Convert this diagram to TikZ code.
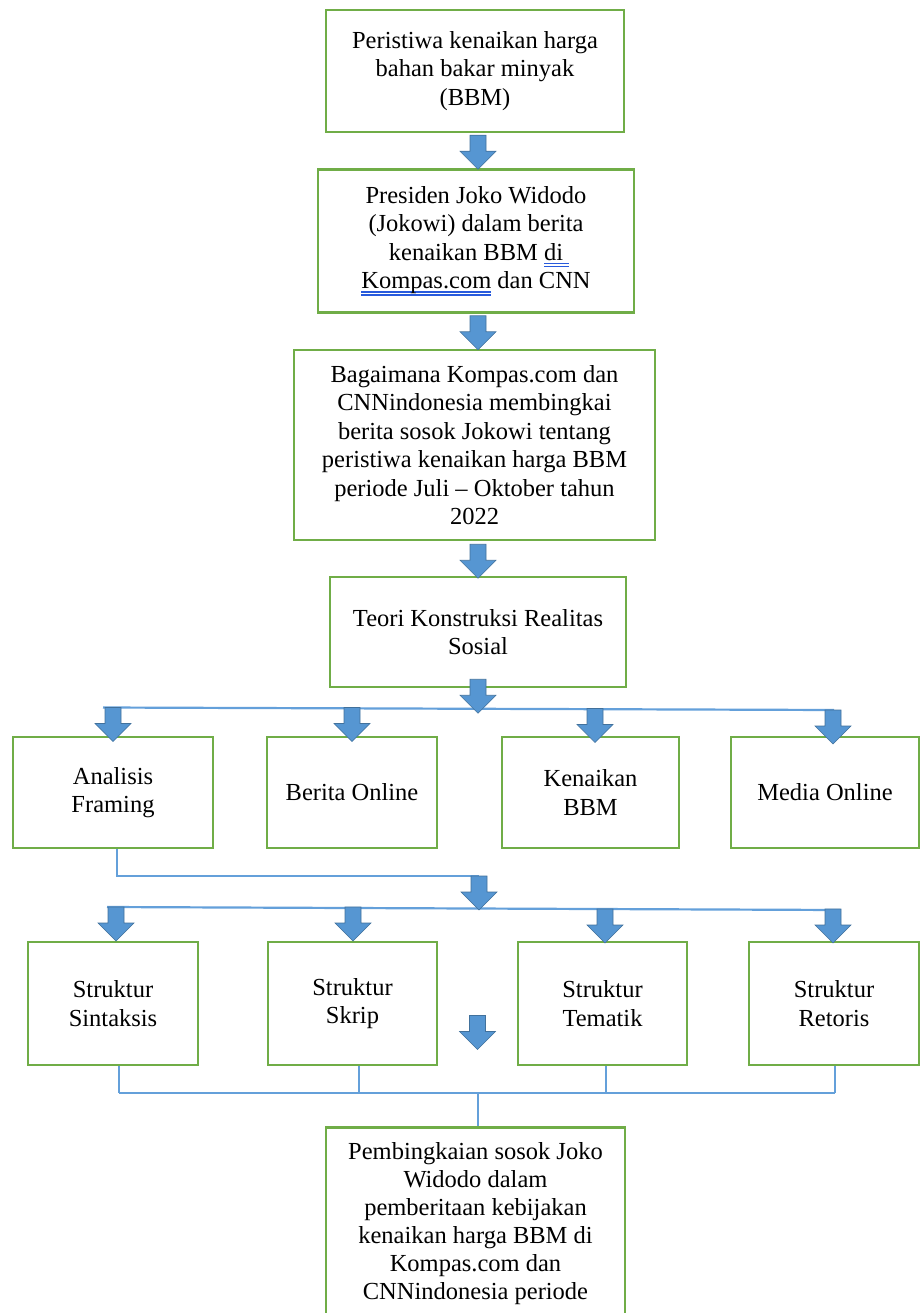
\documentclass[tikz,border=0pt]{standalone}
\usepackage{fontspec}
\setmainfont{Liberation Serif}
\usetikzlibrary{calc}
\definecolor{boxgreen}{RGB}{112,173,71}
\definecolor{lineblue}{RGB}{100,160,218}
\definecolor{arrowblue}{RGB}{86,150,210}
\definecolor{arrowedge}{RGB}{65,113,156}
\definecolor{ulblue}{RGB}{40,90,220}
\newcommand\bluu[1]{\leavevmode\setbox0\hbox{#1}%
  \rlap{\textcolor{ulblue}{\rule[-3.6pt]{\wd0}{1.1pt}}}%
  \rlap{\textcolor{ulblue}{\rule[-6.6pt]{\wd0}{1.1pt}}}\box0\relax}
\begin{document}
\begin{tikzpicture}[x=1pt,y=-1pt,
  box/.style={draw=boxgreen, line width=2.5pt, fill=white, align=center, inner sep=0pt,
    font=\fontsize{24.5}{28.5}\selectfont},
  txt/.style={align=center, inner sep=0pt, font=\fontsize{24.5}{28}\selectfont},
  conn/.style={draw=lineblue, line width=2.2pt},
  arrowsty/.style={fill=arrowblue, draw=arrowedge, line width=0.6pt, line join=miter},
  barrow/.pic={\path[arrowsty] (-8,0) -- (8,0) -- (8,16) -- (18,16) -- (0,34) -- (-18,16) -- (-8,16) -- cycle;}
]
\useasboundingbox (0,0) rectangle (921,1313);
\clip (0,0) rectangle (921,1313);

% main column
\node[box, minimum width=298, minimum height=122] (b1) at (475,71)
  {Peristiwa kenaikan harga\\bahan bakar minyak\\(BBM)};
\node[box, minimum width=316, minimum height=143] (b2) at (476,241)
  {Presiden Joko Widodo\\(Jokowi) dalam berita\\\ kenaikan BBM \bluu{di\ }\\\bluu{Kompas.com}\ dan CNN};
\node[box, minimum width=361, minimum height=190] (b3) at (474.5,445)
  {Bagaimana Kompas.com dan\\CNNindonesia membingkai\\berita sosok Jokowi tentang\\peristiwa kenaikan harga BBM\\periode Juli \textendash{} Oktober tahun\\2022};
\node[box, minimum width=296, minimum height=110] (b4) at (478,632)
  {Teori Konstruksi Realitas\\Sosial};

% first row
\node[box, minimum width=200, minimum height=111] (ra) at (113,792.5) {Analisis\\Framing};
\node[box, minimum width=170, minimum height=111] (rb) at (352,792.5) {Berita Online};
\node[box, minimum width=177, minimum height=111] (rc) at (590.5,792.5) {Kenaikan\\BBM};
\node[box, minimum width=188, minimum height=111] (rd) at (825,792.5) {Media Online};

% second row
\node[box, minimum width=170, minimum height=123] (s1) at (113,1003.5) {Struktur\\Sintaksis};
\node[box, minimum width=169, minimum height=123] (s2) at (352.5,1003.5) {Struktur\\Skrip};
\node[box, minimum width=169, minimum height=123] (s3) at (602.5,1003.5) {Struktur\\Tematik};
\node[box, minimum width=170, minimum height=123] (s4) at (834,1003.5) {Struktur\\Retoris};

% final box
\node[box, anchor=north, minimum width=299, minimum height=230] (fin) at (475.5,1126) {};
\node[txt, anchor=north] (fintxt) at ($(fin.north)+(0,16)$)
  {Pembingkaian sosok Joko\\Widodo dalam\\pemberitaan kebijakan\\kenaikan harga BBM di\\Kompas.com dan\\CNNindonesia periode};

% connector lines
\coordinate (busA) at (103,707.5);
\coordinate (busB) at (834,710);
\draw[conn] (busA) -- (busB);

\coordinate (frE) at (479,876);
\draw[conn] ([xshift=4]ra.south) |- (frE);

\coordinate (busC) at (107,907);
\coordinate (busD) at (840,910);
\draw[conn] (busC) -- (busD);

\coordinate (bb) at (478,1093);
\coordinate (bbL) at (119,1093);
\coordinate (bbR) at (835,1093);
\draw[conn] ([xshift=6]s1.south) -- (bbL);
\draw[conn] ([xshift=6.5]s2.south) -- ([xshift=6.5]s2.south |- bb);
\draw[conn] ([xshift=3.5]s3.south) -- ([xshift=3.5]s3.south |- bb);
\draw[conn] ([xshift=1]s4.south) -- (bbR);
\draw[conn] (bbL) -- (bbR);
\draw[conn] (bb) -- (bb |- fin.north);

% block arrows
\pic at ($(b1.south)+(3,2)$) {barrow};
\pic at ($(b2.south)+(2,2)$) {barrow};
\pic at ($(b3.south)+(3.5,3)$) {barrow};
\pic at ($(b4.south)+(0,-9)$) {barrow};

\pic at (ra.north |- busA) {barrow};
\pic at (rb.north |- busA) {barrow};
\pic at ($(rc.north |- busA)+(4.5,1)$) {barrow};
\pic at ($(rd.north |- busB)+(8,0)$) {barrow};

\pic at (frE) {barrow};

\pic at ($(s1.north |- busC)+(3,0)$) {barrow};
\pic at ($(s2.north |- busC)+(0.5,0)$) {barrow};
\pic at ($(s3.north |- busD)+(2.5,-1)$) {barrow};
\pic at ($(s4.north |- busD)+(-1,-1)$) {barrow};

\coordinate (stray) at ($(s2.east)!0.5!(s3.west)+(0,12)$);
\pic at (stray) {barrow};
\end{tikzpicture}
\end{document}
